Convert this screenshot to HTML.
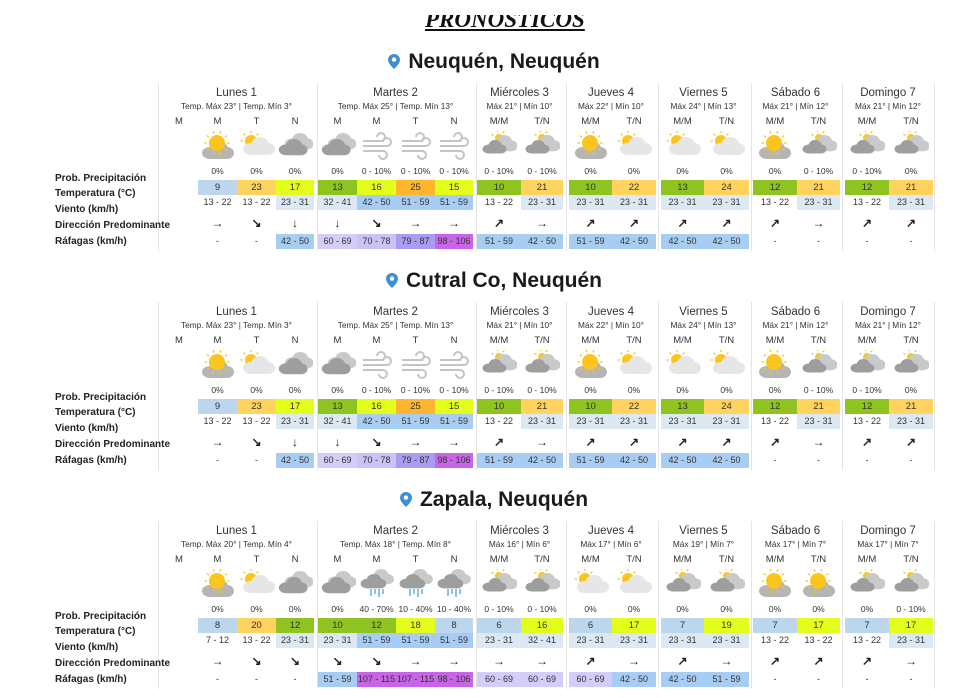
<!DOCTYPE html>
<html><head><meta charset="utf-8">
<style>
body{margin:0;width:973px;height:698px;background:#fff;position:relative;overflow:hidden;font-family:"Liberation Sans",Arial,sans-serif;color:#222}
.a{position:absolute;white-space:nowrap}
.c{text-align:center}
</style></head>
<body>
<div class="a" style="left:425px;top:7px;font-family:'Liberation Serif',serif;font-weight:bold;font-style:italic;font-size:23px;text-decoration:underline;color:#111">PRONÓSTICOS</div>
<div class="a" style="left:400px;top:0;width:200px;height:15px;background:#fff"></div>
<div id="root"></div>
<script>
// ----- data -----
const days = ["Lunes 1","Martes 2","Miércoles 3","Jueves 4","Viernes 5","Sábado 6","Domingo 7"];
const cities = ["Neuquén, Neuquén","Cutral Co, Neuquén","Zapala, Neuquén"];
const subtitlesNQ = ["Temp. Máx 23° | Temp. Mín 3°","Temp. Máx 25° | Temp. Mín 13°","Máx 21° | Mín 10°","Máx 22° | Mín 10°","Máx 24° | Mín 13°","Máx 21° | Mín 12°","Máx 21° | Mín 12°"];
const subtitlesZA = ["Temp. Máx 20° | Temp. Mín 4°","Temp. Máx 18° | Temp. Mín 8°","Máx 16° | Mín 6°","Máx 17° | Mín 6°","Máx 19° | Mín 7°","Máx 17° | Mín 7°","Máx 17° | Mín 7°"];
const iconsNQ = ["sunc","psun","cloud","cloud","wind","wind","wind","cloudsun","cloudsun","sunc","psun","psun","psun","sunc","cloudsun","cloudsun","cloudsun"];
const iconsZA = ["sunc","psun","cloud","cloud","rain","rain","rain","cloudsun","cloudsun","psun","psun","cloudsun","cloudsun","sunc","sunc","cloudsun","cloudsun"];
const probNQ = ["0%","0%","0%","0%","0 - 10%","0 - 10%","0 - 10%","0 - 10%","0 - 10%","0%","0%","0%","0%","0%","0 - 10%","0 - 10%","0%"];
const probZA = ["0%","0%","0%","0%","40 - 70%","10 - 40%","10 - 40%","0 - 10%","0 - 10%","0%","0%","0%","0%","0%","0%","0%","0 - 10%"];
const tempNQ = [9,23,17,13,16,25,15,10,21,10,22,13,24,12,21,12,21];
const tempZA = [8,20,12,10,12,18,8,6,16,6,17,7,19,7,17,7,17];
const windNQ = ["13 - 22","13 - 22","23 - 31","32 - 41","42 - 50","51 - 59","51 - 59","13 - 22","23 - 31","23 - 31","23 - 31","23 - 31","23 - 31","13 - 22","23 - 31","13 - 22","23 - 31"];
const windZA = ["7 - 12","13 - 22","23 - 31","23 - 31","51 - 59","51 - 59","51 - 59","23 - 31","32 - 41","23 - 31","23 - 31","23 - 31","23 - 31","13 - 22","13 - 22","13 - 22","23 - 31"];
const dirNQ = ["→","↘","↓","↓","↘","→","→","↗","→","↗","↗","↗","↗","↗","→","↗","↗"];
const dirZA = ["→","↘","↘","↘","↘","→","→","→","→","↗","→","↗","→","↗","↗","↗","→"];
const gustNQ = ["-","-","42 - 50","60 - 69","70 - 78","79 - 87","98 - 106","51 - 59","42 - 50","51 - 59","42 - 50","42 - 50","42 - 50","-","-","-","-"];
const gustZA = ["-","-","-","51 - 59","107 - 115","107 - 115","98 - 106","60 - 69","60 - 69","60 - 69","42 - 50","42 - 50","51 - 59","-","-","-","-"];

const cityData = [
 {sub:subtitlesNQ,icons:iconsNQ,prob:probNQ,temp:tempNQ,wind:windNQ,dir:dirNQ,gust:gustNQ},
 {sub:subtitlesNQ,icons:iconsNQ,prob:probNQ,temp:tempNQ,wind:windNQ,dir:dirNQ,gust:gustNQ},
 {sub:subtitlesZA,icons:iconsZA,prob:probZA,temp:tempZA,wind:windZA,dir:dirZA,gust:gustZA}
];

// ----- layout -----
const dayL=[158,317,476,566,658,751,842], dayR=[315,474,563,656,749,840,934];
const subLeft=[198,237,276,318,357,396,435,477,521,569,612,661,704,753,797,845,889];
const subW=[39,39,38,39,39,39,38,44,42,43,44,43,45,44,43,44,44];
const subHdr=["M","T","N","M","M","T","N","M/M","T/N","M/M","T/N","M/M","T/N","M/M","T/N","M/M","T/N"];

function tempColor(v){if(v<=9)return"#bcd6ee";if(v<=14)return"#8fc320";if(v<=19)return"#e4fe1c";if(v<=24)return"#ffd35e";return"#ffb62e";}
function windColor(s){const v=parseInt(s);if(v>=42)return"#a8cdf3";if(v>=23)return"#dce9f5";return"transparent";}
function gustColor(s){const v=parseInt(s);if(isNaN(v))return"transparent";if(v>=98)return"#c765e6";if(v>=79)return"#a89df3";if(v>=70)return"#cbc2f8";if(v>=60)return"#d4cdfa";return"#a8cdf3";}

function icon(t){
 const sun=(cx,cy,r,n)=>{let s=`<circle cx="${cx}" cy="${cy}" r="${r}" fill="#fbc51d"/>`;for(let i=0;i<n;i++){const a=Math.PI*2*i/n;s+=`<line x1="${cx+Math.cos(a)*(r+2)}" y1="${cy+Math.sin(a)*(r+2)}" x2="${cx+Math.cos(a)*(r+4.5)}" y2="${cy+Math.sin(a)*(r+4.5)}" stroke="#fbc51d" stroke-width="1.3"/>`;}return s;};
 const cloud=(c,x,y,s)=>`<g transform="translate(${x},${y}) scale(${s})" fill="${c}"><ellipse cx="10" cy="12" rx="8" ry="6"/><ellipse cx="19" cy="8" rx="9" ry="8"/><ellipse cx="27" cy="12" rx="7" ry="6"/><rect x="8" y="10" width="22" height="8" rx="4"/></g>`;
 let b="";
 if(t==="sunc") b=cloud("#b5b5b5",0,10,1)+sun(17,12,8,10);
 else if(t==="psun") b=sun(12,10,6,8)+cloud("#e6e6e6",2,6,1);
 else if(t==="cloud") b=cloud("#c9c9c9",6,2,0.9)+cloud("#9e9e9e",0,8,0.9);
 else if(t==="cloudsun") b=sun(18,7,4,7)+cloud("#c9c9c9",6,4,0.9)+cloud("#9e9e9e",0,9,0.75);
 else if(t==="wind") b=`<g fill="none" stroke="#c4c4c4" stroke-width="2"><path d="M4 10 H22 A4 4 0 1 0 18 6"/><path d="M4 15 H28 A4 4 0 1 0 24 11"/><path d="M4 20 H24 A4 4 0 1 1 20 24"/></g>`;
 else if(t==="rain") b=cloud("#c9c9c9",6,0,0.85)+cloud("#9e9e9e",0,5,0.8)+`<g stroke="#4aa3e0" stroke-width="1.3"><line x1="12" y1="20" x2="12" y2="27"/><line x1="16" y1="20" x2="16" y2="25"/><line x1="20" y1="20" x2="20" y2="28"/><line x1="24" y1="20" x2="24" y2="25"/></g>`;
 return `<svg width="36" height="30" viewBox="0 0 36 30">${b}</svg>`;
}

const root=document.getElementById('root');
function add(html,style,name,cls){const d=document.createElement('div');d.className='a '+(cls||'');d.style.cssText=style;d.innerHTML=html;


root.appendChild(d);return d;}

cities.forEach((city,ci)=>{
 const o=ci*219, D=cityData[ci];
 add(`<svg width="12" height="15" viewBox="0 0 12 15" style="vertical-align:-1px;margin-right:8px"><path d="M6 0C2.7 0 0 2.6 0 5.8 0 10 6 15 6 15s6-5 6-9.2C12 2.6 9.3 0 6 0z" fill="#3f8fd2"/><circle cx="6" cy="5.6" r="2.2" fill="#fff"/></svg>${city}`,
  `left:0;width:988px;text-align:center;top:${50+o}px;font-size:21px;font-weight:bold;color:#1a1a1a`,'city-heading');
 dayL.forEach((l,i)=>{
  add('',`left:${l}px;top:${83+o}px;width:1px;height:168px;background:#e4e4e4`,'day-separator');
  add(days[i],`left:${l}px;width:${dayR[i]-l}px;top:${87+o}px;font-size:11.5px;color:#333`,'day-name','c');
  add(D.sub[i],`left:${l}px;width:${dayR[i]-l}px;top:${101+o}px;font-size:8.3px;color:#333`,'day-temps','c');
 });
 add('',`left:934px;top:${83+o}px;width:1px;height:168px;background:#e4e4e4`,'day-separator');
 add('M',`left:160px;width:38px;top:${116+o}px;font-size:9.5px;color:#333`,'period-label','c');
 [["Prob. Precipitación",173],["Temperatura (°C)",188],["Viento (km/h)",204],["Dirección Predominante",220],["Ráfagas (km/h)",236]].forEach(([t,y])=>{
  add(t,`left:55px;top:${y+o}px;font-size:10px;font-weight:bold;color:#222`,'row-label');
 });
 subLeft.forEach((x,j)=>{
  const w=subW[j];
  add(subHdr[j],`left:${x}px;width:${w}px;top:${116+o}px;font-size:9.5px;color:#333`,'period-label','c');
  add(icon(D.icons[j]),`left:${x+w/2-18}px;top:${131+o}px;width:36px;height:30px`,'weather-icon');
  add(D.prob[j],`left:${x}px;width:${w}px;top:${166+o}px;font-size:8.5px;color:#333`,'precip-prob','c');
  add(D.temp[j],`left:${x}px;width:${w}px;top:${180+o}px;height:15px;line-height:15px;font-size:9.5px;color:#333;background:${tempColor(D.temp[j])}`,'temp-cell','c');
  add(D.wind[j],`left:${x}px;width:${w}px;top:${195+o}px;height:15px;line-height:15px;font-size:9px;color:#333;background:${windColor(D.wind[j])}`,'wind-cell','c');
  add(D.dir[j],`left:${x}px;width:${w}px;top:${216+o}px;font-size:12px;font-weight:bold;color:#222`,'wind-direction','c');
  add(D.gust[j],`left:${x}px;width:${w}px;top:${234+o}px;height:15px;line-height:15px;font-size:9px;color:#333;background:${gustColor(D.gust[j])}`,'gust-cell','c');
 });
});
</script>
</body></html>
